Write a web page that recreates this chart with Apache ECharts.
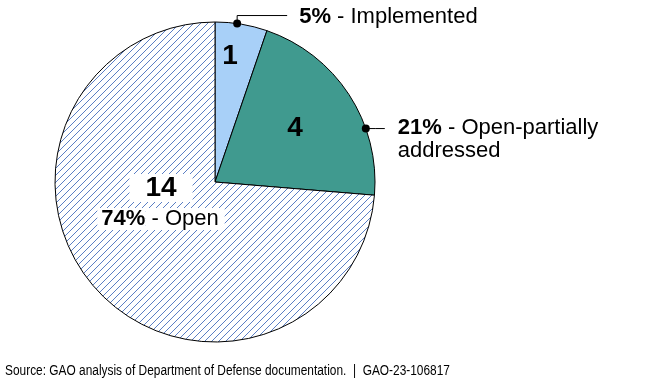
<!DOCTYPE html>
<html>
<head>
<meta charset="utf-8">
<script src="https://cdn.jsdelivr.net/npm/echarts@6/dist/echarts.min.js"></script>
<style>html,body{margin:0;padding:0;background:#fff;}#c{width:650px;height:390px;}</style>
</head>
<body>
<div id="c"></div>
<script>
const categories = ['Implemented', 'Open-partially addressed', 'Open'];
const counts = [1, 4, 14];
const percents = [5, 21, 74];
const sourceText = 'Source: GAO analysis of Department of Defense documentation.  |  GAO-23-106817';

const CENTER = [215, 182];
const R = 160;
const FONT = 'Liberation Sans, Arial, sans-serif';
const anchorFrac = [0.42, 0.68];

const total = counts.reduce((a, b) => a + b, 0);
function sliceAngle(i, frac) {
  let before = 0;
  for (let k = 0; k < i; k++) before += counts[k];
  return 90 - (before + frac * counts[i]) / total * 360;
}
function edgePoint(deg) {
  const a = deg * Math.PI / 180;
  return [CENTER[0] + R * Math.cos(a), CENTER[1] - R * Math.sin(a)];
}
const anchors = [edgePoint(sliceAngle(0, anchorFrac[0])), edgePoint(sliceAngle(1, anchorFrac[1]))];

// hatch pattern
const T = 7;
const pc = document.createElement('canvas');
pc.width = T; pc.height = T;
const g = pc.getContext('2d');
g.fillStyle = '#fff'; g.fillRect(0, 0, T, T);
g.strokeStyle = '#5b7fc4'; g.lineWidth = 1;
g.beginPath();
g.moveTo(-1, T + 1); g.lineTo(T + 1, -1);
g.moveTo(-1, 1); g.lineTo(1, -1);
g.moveTo(T - 1, T + 1); g.lineTo(T + 1, T - 1);
g.stroke();

const colors = ['#a8d0f8', '#409a8f', { image: pc, repeat: 'repeat' }];

const data = categories.map((c, i) => ({ name: c, value: counts[i], itemStyle: { color: colors[i] } }));
const outerData = categories.map((c, i) => ({ name: c, value: counts[i], label: { show: i < 2 }, labelLine: { show: i < 2 } }));

const innerPos = [[230, 56], [295, 128], [161, 203]];

const chart = echarts.init(document.getElementById('c'), null, { renderer: 'canvas' });
chart.setOption({
  animation: false,
  backgroundColor: '#fff',
  graphic: anchors.map(p => ({ type: 'circle', shape: { cx: p[0], cy: p[1], r: 4 }, style: { fill: '#000' }, z: 100 })).concat([{
    type: 'text', left: 5, top: 364, scaleX: 0.85,
    style: { text: sourceText, font: '14px Liberation Sans, Arial', fill: '#000' }
  }]),
  series: [
    {
      type: 'pie', center: CENTER, radius: R, startAngle: 90, clockwise: true,
      silent: true,
      itemStyle: { borderColor: '#000', borderWidth: 1 },
      emphasis: { disabled: true },
      data: data,
      label: {
        show: true, position: 'inside',
        formatter: p => p.dataIndex === 2
          ? '{w|' + counts[2] + '}\n{p|' + percents[2] + '%}{t| - ' + categories[2] + '}'
          : '{n|' + counts[p.dataIndex] + '}',
        rich: {
          n: { fontFamily: FONT, fontSize: 28, fontWeight: 'bold', color: '#000', lineHeight: 32 },
          w: { fontFamily: FONT, fontSize: 28, fontWeight: 'bold', color: '#000', lineHeight: 32, backgroundColor: '#fff', padding: [0, 16] },
          p: { fontFamily: FONT, fontSize: 22, fontWeight: 'bold', color: '#000', lineHeight: 30, backgroundColor: '#fff', padding: [0, 0, 0, 4] },
          t: { fontFamily: FONT, fontSize: 22, color: '#000', lineHeight: 30, backgroundColor: '#fff', padding: [0, 6, 0, 0] }
        }
      },
      labelLine: { show: false },
      labelLayout: p => {
        const i = p.dataIndex;
        return { x: innerPos[i][0], y: innerPos[i][1], align: 'center', verticalAlign: 'middle' };
      }
    },
    {
      type: 'pie', center: CENTER, radius: R, startAngle: 90, clockwise: true,
      silent: true,
      itemStyle: { color: 'rgba(0,0,0,0)', borderWidth: 0 },
      emphasis: { disabled: true },
      data: outerData,
      label: {
        position: 'outside',
        formatter: p => {
          const i = p.dataIndex;
          if (i === 1) return '{b|' + percents[i] + '%}{t| - Open-partially}\n{t|addressed}';
          return '{b|' + percents[i] + '%}{t| - ' + categories[i] + '}';
        },
        rich: {
          b: { fontFamily: FONT, fontSize: 22, fontWeight: 'bold', color: '#000', lineHeight: 23 },
          t: { fontFamily: FONT, fontSize: 22, color: '#000', lineHeight: 23 }
        }
      },
      labelLine: { lineStyle: { color: '#000', width: 1 } },
      labelLayout: p => {
        const i = p.dataIndex;
        const a = anchors[i];
        if (!a) return {};
        if (i === 0) {
          const ly = a[1] - 8;
          return {
            x: a[0] + 62, y: ly + 1, align: 'left', verticalAlign: 'middle',
            labelLinePoints: [a, [a[0], ly], [a[0] + 50, ly]]
          };
        }
        return {
          x: a[0] + 32, y: a[1] - 12, align: 'left', verticalAlign: 'top',
          labelLinePoints: [a, [a[0] + 10, a[1]], [a[0] + 19, a[1]]]
        };
      }
    }
  ]
});
</script>
</body>
</html>
